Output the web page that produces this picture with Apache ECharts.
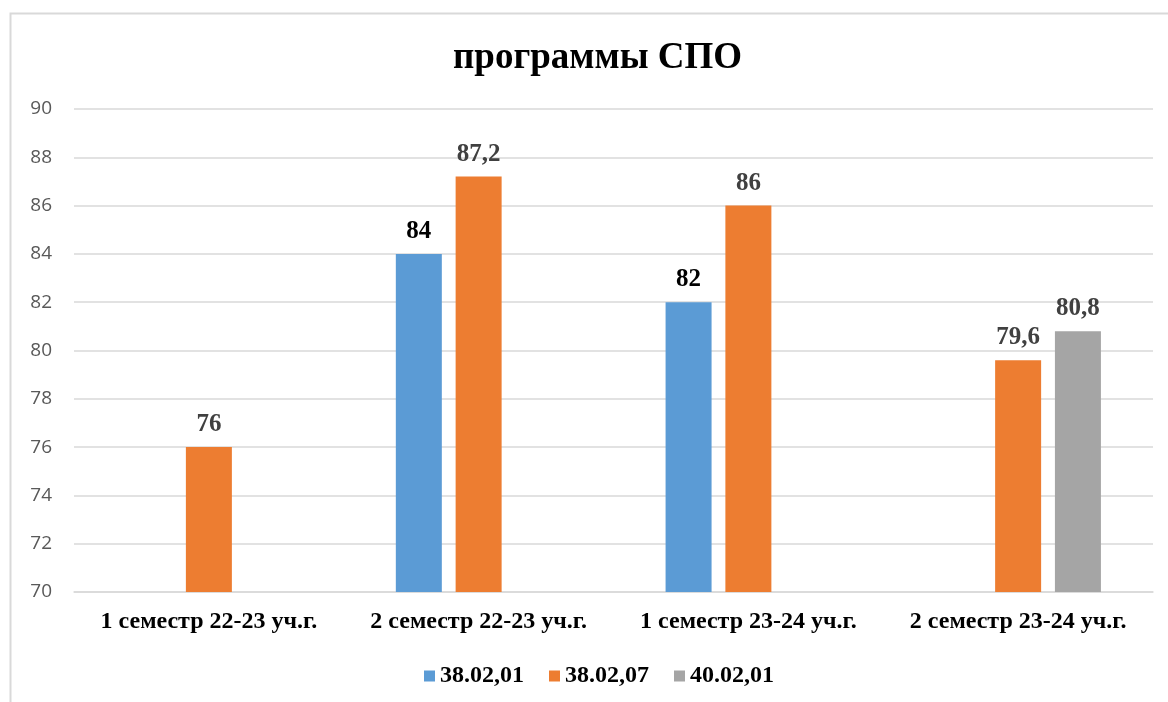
<!DOCTYPE html>
<html>
<head>
<meta charset="utf-8">
<script src="https://cdn.jsdelivr.net/npm/echarts@6/dist/echarts.min.js"></script>
<style>
  html, body { margin: 0; padding: 0; background: #fff; }
  #chart { width: 1168px; height: 702px; }
</style>
</head>
<body>
<div id="chart"></div>
<script>
// данные
const categories = ['1 семестр 22-23 уч.г.', '2 семестр 22-23 уч.г.', '1 семестр 23-24 уч.г.', '2 семестр 23-24 уч.г.'];
const s380201 = [null, 84, 82, null];
const s380207 = [76, 87.2, 86, 79.6];
const s400201 = [null, null, null, 80.8];
const seriesNames = ['38.02,01', '38.02,07', '40.02,01'];
const colors = ['#5b9bd5', '#ed7d31', '#a5a5a5'];
const labelColors = ['#000000', '#404040', '#404040'];

const serif = '"Liberation Serif", "Times New Roman", serif';

function bar(name, data, i) {
    return {
        name: name,
        type: 'bar',
        data: data,
        barWidth: 46,
        barGap: '30%',
        itemStyle: { color: colors[i] },
        label: {
            show: true,
            position: 'top',
            distance: 10,
            color: labelColors[i],
            fontFamily: serif,
            fontWeight: 'bold',
            fontSize: 25,
            formatter: p => String(p.value).replace('.', ',')
        }
    };
}

const option = {
    animation: false,
    graphic: [{
        type: 'rect',
        shape: { x: 10.5, y: 13.5, width: 1170, height: 700 },
        style: { fill: 'none', stroke: '#d9d9d9', lineWidth: 2 }
    }],
    title: {
        text: 'программы СПО',
        left: 448,
        top: 35,
        textStyle: { fontFamily: serif, fontWeight: 'bold', fontSize: 37, color: '#000' }
    },
    legend: {
        data: seriesNames,
        top: 659,
        left: 419,
        itemWidth: 11,
        itemHeight: 11,
        itemGap: 25,
        icon: 'rect',
        textStyle: { fontFamily: serif, fontWeight: 'bold', fontSize: 24, color: '#000' }
    },
    grid: { left: 74, right: 15, top: 109, bottom: 110 },
    xAxis: {
        type: 'category',
        data: categories,
        axisLine: { lineStyle: { color: '#d9d9d9', width: 1.5 } },
        axisTick: { show: false },
        axisLabel: { interval: 0, margin: 18, fontFamily: serif, fontWeight: 'bold', fontSize: 24, color: '#000' }
    },
    yAxis: {
        type: 'value',
        min: 70,
        max: 90,
        interval: 2,
        axisLine: { show: false },
        axisTick: { show: false },
        splitLine: { lineStyle: { color: '#d9d9d9', width: 1.5 } },
        axisLabel: { margin: 22, fontFamily: '"Open Sans", sans-serif', fontSize: 19, color: '#595959' }
    },
    series: [
        bar(seriesNames[0], s380201, 0),
        bar(seriesNames[1], s380207, 1),
        bar(seriesNames[2], s400201, 2)
    ]
};

const chart = echarts.init(document.getElementById('chart'));
chart.setOption(option);
</script>
</body>
</html>
